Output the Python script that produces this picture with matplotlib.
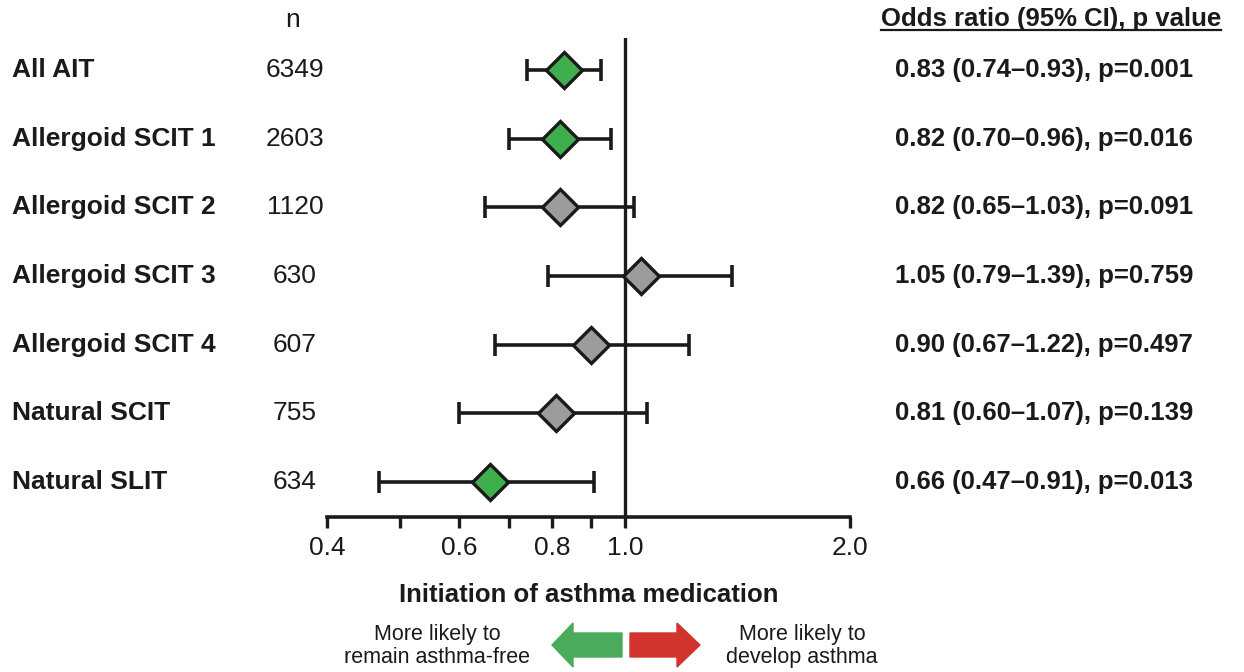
import numpy as np
import matplotlib
matplotlib.use("Agg")
import matplotlib.pyplot as plt
import matplotlib.patches as mpatches
from matplotlib.transforms import blended_transform_factory, IdentityTransform
from matplotlib.lines import Line2D

plt.rcParams['font.family'] = ['Liberation Sans', 'DejaVu Sans']

labels = ["All AIT", "Allergoid SCIT 1", "Allergoid SCIT 2", "Allergoid SCIT 3",
          "Allergoid SCIT 4", "Natural SCIT", "Natural SLIT"]
n_vals = [6349, 2603, 1120, 630, 607, 755, 634]
odds = [0.83, 0.82, 0.82, 1.05, 0.90, 0.81, 0.66]
ci_lo = [0.74, 0.70, 0.65, 0.79, 0.67, 0.60, 0.47]
ci_hi = [0.93, 0.96, 1.03, 1.39, 1.22, 1.07, 0.91]
p_vals = ["0.001", "0.016", "0.091", "0.759", "0.497", "0.139", "0.013"]
significant = [True, True, False, False, False, False, True]
tick_vals = [0.4, 0.6, 0.8, 1.0, 2.0]
minor_vals = [0.5, 0.7, 0.9]

W, H = 1244, 672
fig = plt.figure(figsize=(W / 100, H / 100), dpi=100)
ax = fig.add_axes([327 / W, 155 / H, (850 - 327) / W, (634 - 155) / H])

green = '#3fae4c'
gray = '#9c9c9c'
ink = '#1a1a1a'

y = np.arange(len(labels))
for i in range(len(labels)):
    ax.errorbar(odds[i], y[i], xerr=[[odds[i] - ci_lo[i]], [ci_hi[i] - odds[i]]],
                fmt='none', ecolor=ink, elinewidth=2.6, capsize=8, capthick=2.6, zorder=2)
    ax.plot(odds[i], y[i], marker='D', ms=18, mfc=green if significant[i] else gray,
            mec=ink, mew=2.4, zorder=3, ls='none')

ax.axvline(1.0, color=ink, lw=2.4, zorder=1)
ax.set_xscale('log')
ax.set_xlim(0.4, 2.0)
ax.set_ylim(6.51, -0.466)
ax.set_xticks(tick_vals)
ax.set_xticklabels(['%.1f' % v for v in tick_vals])
ax.set_xticks(minor_vals, minor=True)
ax.xaxis.set_minor_formatter(plt.NullFormatter())
ax.tick_params(axis='x', which='both', length=8, width=2.4, color=ink,
               labelsize=19, pad=6, labelcolor=ink)
ax.set_yticks([])
for s in ['top', 'right', 'left']:
    ax.spines[s].set_visible(False)
ax.spines['bottom'].set_linewidth(2.6)
ax.spines['bottom'].set_color(ink)
ax.set_xlabel('Initiation of asthma medication', fontsize=18.5, fontweight='bold',
              color=ink, labelpad=16)

tr = blended_transform_factory(fig.transFigure, ax.transData)
for i in range(len(labels)):
    fig.text(12 / W, y[i], labels[i], transform=tr, fontsize=19, fontweight='bold',
             va='center', ha='left', color=ink)
    fig.text(295 / W, y[i], str(n_vals[i]), transform=tr, fontsize=19,
             va='center', ha='center', color=ink)
    fig.text(1044 / W, y[i], '%.2f (%.2f\u2013%.2f), p=%s' % (odds[i], ci_lo[i], ci_hi[i], p_vals[i]),
             transform=tr, fontsize=18.5, fontweight='bold', va='center', ha='center', color=ink)

fig.text(293 / W, 1 - 20 / H, 'n', fontsize=19, ha='center', va='center', color=ink)
hdr = fig.text(1051 / W, 1 - 19 / H, 'Odds ratio (95% CI), p value', fontsize=18.5,
               fontweight='bold', ha='center', va='center', color=ink)

fig.canvas.draw()
bb = hdr.get_window_extent(fig.canvas.get_renderer())
fig.add_artist(Line2D([bb.x0, bb.x1], [bb.y0 + 1, bb.y0 + 1], transform=IdentityTransform(),
                      color=ink, lw=1.6))

# direction arrows
fig.add_artist(mpatches.FancyArrow(622, 27, -70, 0, width=24, head_width=44, head_length=21,
                                   length_includes_head=True, color='#4aab5a',
                                   transform=IdentityTransform()))
fig.add_artist(mpatches.FancyArrow(630, 27, 70, 0, width=24, head_width=44, head_length=23,
                                   length_includes_head=True, color='#d1342e',
                                   transform=IdentityTransform()))
fig.text(437 / W, 1 - 646 / H, 'More likely to\nremain asthma-free', fontsize=15.5,
         ha='center', va='center', color=ink, linespacing=1.1)
fig.text(802 / W, 1 - 646 / H, 'More likely to\ndevelop asthma', fontsize=15.5,
         ha='center', va='center', color=ink, linespacing=1.1)

fig.savefig('out.png', dpi=100, facecolor='white')
